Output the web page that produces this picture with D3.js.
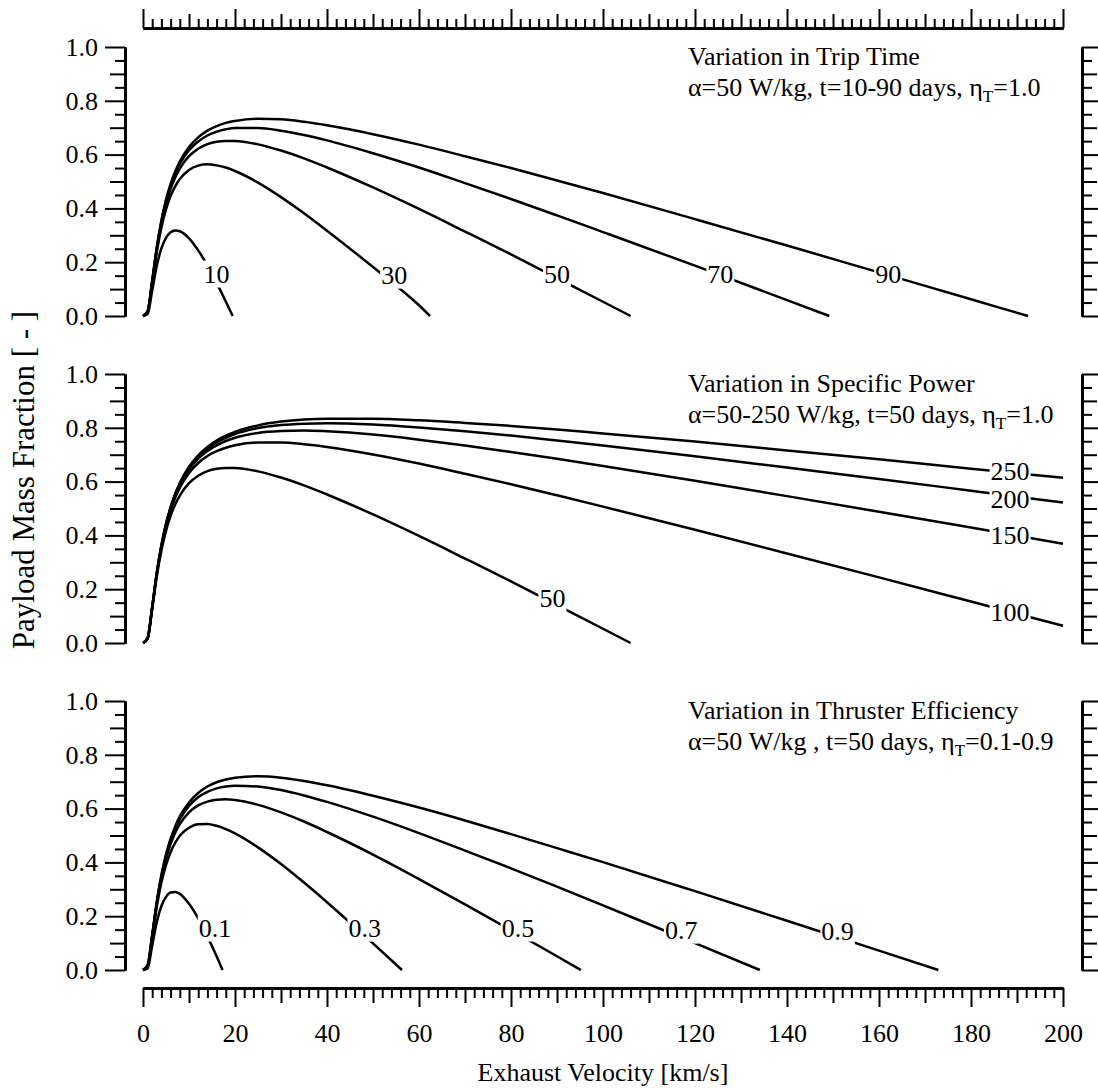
<!DOCTYPE html>
<html><head><meta charset="utf-8">
<script src="https://cdn.jsdelivr.net/npm/d3@7"></script>
<style>
body{margin:0;background:#fff}
text{font-family:"Liberation Serif","Times New Roman",serif;fill:#000}
</style>
</head><body>
<svg id="c" width="1098" height="1088"></svg>
<script>
// ---- data ----
const velGrid = [0,1,2,3,4,5,6,7,8,10,12,14,16,18,20,25,30,35,40,50,60,70,80,90,100,120,140,160,180,200];

// Panel 1: trip time (days)
const tripNames = ["10","30","50","70","90"];
const trip10 = [0,.007,.095,.187,.251,.290,.311,.318,.315,.289,.244,.188,.123,.054];
const trip30 = [0,.015,.122,.238,.329,.396,.446,.482,.509,.543,.559,.564,.560,.552,.539,.496,.442,.382,.317,.182,.040];
const trip50 = [0,.016,.127,.248,.344,.417,.473,.515,.548,.594,.622,.639,.648,.651,.651,.638,.615,.586,.552,.478,.398,.314,.229,.141,.053];
const trip70 = [0,.017,.130,.253,.351,.427,.484,.529,.565,.616,.649,.671,.685,.694,.699,.699,.689,.673,.653,.605,.552,.494,.435,.374,.312,.187,.059];
const trip90 = [0,.017,.131,.255,.355,.432,.491,.537,.574,.628,.664,.689,.706,.718,.725,.733,.731,.722,.709,.676,.637,.594,.550,.504,.457,.360,.262,.162,.062];
const tripEnd = [19.5, 62.4, 106.0, 149.2, 192.4];
const tripLabelV = [16.0, 54.6, 90.0, 125.5, 162.0];
const tripLabelF = [0.156, 0.152, 0.155, 0.155, 0.155];

// Panel 2: specific power (W/kg)
const powNames = ["50","100","150","200","250"];
const pow50 = trip50;
const pow100 = [0,.017,.131,.256,.356,.433,.493,.540,.577,.632,.669,.695,.713,.726,.735,.745,.745,.739,.729,.701,.667,.629,.590,.549,.507,.421,.333,.244,.154,.064];
const pow150 = [0,.018,.133,.259,.360,.439,.500,.548,.587,.645,.685,.714,.735,.751,.763,.781,.788,.790,.787,.775,.756,.734,.710,.685,.658,.603,.546,.488,.429,.369];
const pow200 = [0,.018,.133,.260,.362,.441,.503,.552,.592,.651,.693,.723,.746,.763,.777,.799,.810,.815,.817,.812,.801,.787,.771,.753,.734,.694,.652,.610,.566,.522];
const pow250 = [0,.018,.134,.261,.363,.443,.505,.555,.595,.655,.698,.729,.753,.771,.785,.809,.823,.831,.834,.834,.828,.818,.807,.794,.779,.749,.716,.683,.648,.614];
const powEnd = [106.0, null, null, null, null];
const powLabelV = [89.0, 188.5, 188.5, 188.5, 188.5];
const powLabelF = [0.165, 0.115, 0.401, 0.535, 0.636];

// Panel 3: thruster efficiency
const effNames = ["0.1","0.3","0.5","0.7","0.9"];
const eff01 = [0,.006,.091,.178,.238,.272,.288,.290,.283,.246,.192,.125,.051];
const eff03 = [0,.014,.121,.235,.325,.390,.438,.473,.499,.529,.542,.543,.536,.524,.508,.456,.394,.325,.252,.099];
const eff05 = [0,.016,.126,.247,.342,.414,.468,.510,.542,.586,.612,.626,.633,.635,.632,.614,.586,.552,.513,.429,.338,.244,.148,.051];
const eff07 = [0,.017,.129,.251,.349,.424,.481,.526,.560,.610,.642,.662,.675,.682,.685,.682,.669,.649,.625,.570,.509,.444,.378,.310,.240,.100];
const eff09 = [0,.017,.130,.254,.353,.430,.488,.534,.571,.623,.658,.682,.698,.708,.715,.720,.715,.703,.687,.648,.604,.556,.505,.453,.401,.293,.183,.072];
const effEnd = [17.3, 56.3, 95.2, 134.1, 172.9];
const effLabelV = [15.65, 48.2, 81.5, 117.0, 151.0];
const effLabelF = [0.156, 0.156, 0.156, 0.148, 0.142];

const panelTitles = ["Variation in Trip Time","Variation in Specific Power","Variation in Thruster Efficiency"];
const panelSub = [["α=50 W/kg, t=10-90 days, η","T","=1.0"],["α=50-250 W/kg, t=50 days, η","T","=1.0"],["α=50 W/kg , t=50 days, η","T","=0.1-0.9"]];

const yMajor = [0,0.2,0.4,0.6,0.8,1.0];
const yMid = [0.1,0.3,0.5,0.7,0.9];
const yMinor = [0.05,0.15,0.25,0.35,0.45,0.55,0.65,0.75,0.85,0.95];
const xMajor = [0,20,40,60,80,100,120,140,160,180,200];
const xMid = [10,30,50,70,90,110,130,150,170,190];
const xMinor = d3.range(2,200,2).filter(v => v % 10 !== 0);

// ---- layout ----
const svg = d3.select("#c");
const FS = 26;
const x = d3.scaleLinear().domain([0,200]).range([143,1063]);
const panelBottoms = [316, 643, 970];
const PH = 269;
const leftX = 125, rightX = 1082;

function styleAxis(g, w){
  g.select(".domain").attr("stroke","#000").attr("stroke-width",2.5);
  g.selectAll(".tick line").attr("stroke","#000").attr("stroke-width",w||2);
  g.selectAll(".tick text").attr("font-size",FS).attr("font-family","'Liberation Serif','Times New Roman',serif").attr("fill","#000");
}

const line = d3.line().x(d=>x(d[0])).y(d=>d[1]).curve(d3.curveMonotoneX);

const panels = [
  {names:tripNames, vals:[trip10,trip30,trip50,trip70,trip90], end:tripEnd, lv:tripLabelV, lf:tripLabelF},
  {names:powNames, vals:[pow50,pow100,pow150,pow200,pow250], end:powEnd, lv:powLabelV, lf:powLabelF},
  {names:effNames, vals:[eff01,eff03,eff05,eff07,eff09], end:effEnd, lv:effLabelV, lf:effLabelF}
];

panels.forEach((p, pi) => {
  const y0 = panelBottoms[pi];
  const y = d3.scaleLinear().domain([0,1]).range([y0, y0-PH]);
  const g = svg.append("g");

  [[yMinor,10,false],[yMid,15,false],[yMajor,20,true]].forEach(([vals,size,lab])=>{
    const a = g.append("g").attr("transform",`translate(${leftX},0)`)
      .call(d3.axisLeft(y).tickValues(vals).tickSize(size).tickSizeOuter(0).tickPadding(7)
        .tickFormat(lab ? d3.format(".1f") : ()=>""));
    styleAxis(a);
  });
  [[yMinor,10],[yMid,15],[yMajor,20]].forEach(([vals,size])=>{
    const a = g.append("g").attr("transform",`translate(${rightX},0)`)
      .call(d3.axisRight(y).tickValues(vals).tickSize(size).tickSizeOuter(0).tickFormat(()=>""));
    styleAxis(a);
  });

  const series = p.vals.map((vals,i)=>{
    const pts = vals.map((f,k)=>[velGrid[k], y(f)]);
    if (p.end[i] != null) pts.push([p.end[i], y(0)]);
    return pts;
  });
  g.selectAll("path.curve").data(series).join("path").attr("class","curve")
    .attr("d", line).attr("fill","none").attr("stroke","#000")
    .attr("stroke-width",2.5).attr("stroke-linejoin","round");

  const lg = g.append("g");
  const texts = p.names.map((n,i)=>{
    return lg.append("text").attr("x", x(p.lv[i])).attr("y", y(p.lf[i]))
      .attr("text-anchor","middle").attr("dominant-baseline","central")
      .attr("font-size",FS).text(n);
  });
  texts.forEach(t=>{
    const b = t.node().getBBox();
    lg.insert("rect","text").attr("x",b.x-1).attr("y",b.y+1).attr("width",b.width+2).attr("height",b.height-2).attr("fill","#fff");
  });

  const top = y0 - PH;
  g.append("text").attr("x",688).attr("y",top+18).attr("font-size",FS).text(panelTitles[pi]);
  const t2 = g.append("text").attr("x",688).attr("y",top+49).attr("font-size",FS);
  t2.append("tspan").text(panelSub[pi][0]);
  t2.append("tspan").attr("font-size",17).attr("dy",6).text(panelSub[pi][1]);
  t2.append("tspan").attr("font-size",FS).attr("dy",-6).text(panelSub[pi][2]);
});

[[xMinor,10,false],[xMid,15,false],[xMajor,19,true]].forEach(([vals,size,lab])=>{
  const a = svg.append("g").attr("transform","translate(0,988)")
    .call(d3.axisBottom(x).tickValues(vals).tickSize(size).tickSizeOuter(0).tickPadding(17)
      .tickFormat(lab ? d3.format("d") : ()=>""));
  styleAxis(a);
});
[[xMinor,9,false],[xMid,14,false],[xMajor,19,false]].forEach(([vals,size])=>{
  const a = svg.append("g").attr("transform","translate(0,28)")
    .call(d3.axisTop(x).tickValues(vals).tickSize(size).tickSizeOuter(0).tickFormat(()=>""));
  styleAxis(a);
});

svg.append("text").attr("x",603).attr("y",1081).attr("text-anchor","middle").attr("font-size",FS).text("Exhaust Velocity [km/s]");
svg.append("text").attr("transform","translate(34,480) rotate(-90)").attr("text-anchor","middle")
  .attr("font-size",31).text("Payload Mass Fraction [ - ]");
</script>
</body></html>
